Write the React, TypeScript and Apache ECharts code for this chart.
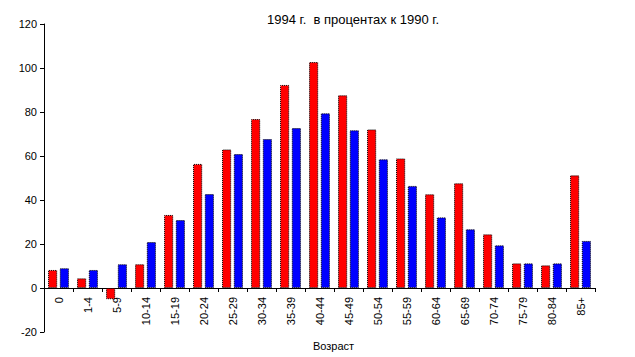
import React, { useEffect, useRef } from "react";
import * as echarts from "echarts";

const categories = ["0", "1-4", "5-9", "10-14", "15-19", "20-24", "25-29", "30-34", "35-39", "40-44", "45-49", "50-54", "55-59", "60-64", "65-69", "70-74", "75-79", "80-84", "85+"];
const redValues = [8.2, 4.4, -5.1, 10.8, 33.2, 56.4, 63.0, 76.8, 92.3, 102.7, 87.6, 72.1, 58.9, 42.6, 47.6, 24.4, 11.2, 10.3, 51.2];
const blueValues = [9.0, 8.2, 10.8, 20.9, 30.9, 42.7, 60.9, 67.7, 72.7, 79.4, 71.7, 58.5, 46.4, 32.1, 26.7, 19.4, 11.2, 11.2, 21.4];
const titleText = "1994 г.  в процентах к 1990 г.";
const xAxisTitle = "Возраст";

const FONT = "'Liberation Sans', Arial, sans-serif";

export default function App() {
  const ref = useRef<HTMLDivElement>(null);
  useEffect(() => {
    if (!ref.current) return;
    const chart = echarts.init(ref.current, null, { renderer: "svg" });
    const barStyle = (color: string) => ({
      color,
      borderColor: "#000",
      borderWidth: 1,
      borderType: "dotted" as const,
    });
    chart.setOption({
      animation: false,
      backgroundColor: "#fff",
      title: {
        text: titleText,
        left: 262,
        top: 8,
        textStyle: { fontFamily: FONT, fontSize: 13, fontWeight: "normal", color: "#000" },
      },
      grid: { left: 44, right: 40, top: 24, bottom: 25, containLabel: false, outerBoundsMode: "none" },
      xAxis: {
        type: "category",
        data: categories,
        axisLine: { onZero: true, lineStyle: { color: "#000", width: 1 } },
        axisTick: { show: true, length: 4, alignWithLabel: false, lineStyle: { color: "#000" } },
        axisLabel: { rotate: 90, interval: 0, fontFamily: FONT, fontSize: 11, color: "#000", margin: -35, hideOverlap: false },
        splitLine: { show: false },
      },
      yAxis: {
        type: "value",
        min: -20,
        max: 120,
        interval: 20,
        axisLine: { show: true, lineStyle: { color: "#000", width: 1 } },
        axisTick: { show: true, length: 4, lineStyle: { color: "#000" } },
        axisLabel: { fontFamily: FONT, fontSize: 11, color: "#000", margin: 7 },
        splitLine: { show: false },
      },
      graphic: [
        {
          type: "text",
          left: 313,
          top: 340,
          style: { text: xAxisTitle, font: `11px ${FONT}`, fill: "#000" },
        },
      ],
      series: [
        {
          type: "bar",
          data: redValues,
          itemStyle: barStyle("#ff0000"),
          barGap: "28%",
          barCategoryGap: "28%",
        },
        {
          type: "bar",
          data: blueValues,
          itemStyle: barStyle("#0000ff"),
          barGap: "28%",
          barCategoryGap: "28%",
        },
      ],
    });
    return () => chart.dispose();
  }, []);
  return <div ref={ref} style={{ position: "fixed", left: 0, top: 0, width: 635, height: 357 }} />;
}
